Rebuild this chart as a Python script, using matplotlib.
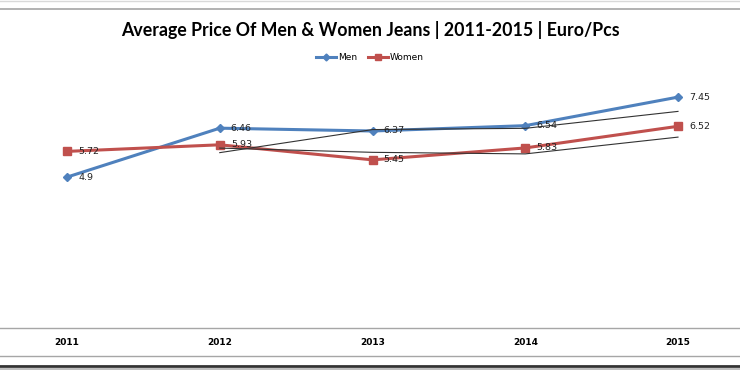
import numpy as np
import matplotlib
matplotlib.use("Agg")
import matplotlib.pyplot as plt
from matplotlib.lines import Line2D

years = ['2011', '2012', '2013', '2014', '2015']
men = [4.9, 6.46, 6.37, 6.54, 7.45]
women = [5.72, 5.93, 5.45, 5.83, 6.52]

# 2-period moving average trendlines (start at the second point)
men_ma = [(a + b) / 2 for a, b in zip(men[:-1], men[1:])]
women_ma = [(a + b) / 2 for a, b in zip(women[:-1], women[1:])]

blue = '#4F81BD'
red = '#C0504D'

fig = plt.figure(figsize=(7.4, 3.7), dpi=100)
ax = fig.add_axes([0, 1 - 328 / 370, 1, 314 / 370])
x = np.arange(len(years))

ax.plot(x, men, color=blue, lw=2.2, marker='D', ms=4, zorder=3, label='Men')
ax.plot(x, women, color=red, lw=2.2, marker='s', ms=6, zorder=3, label='Women')
ax.plot(x[1:], men_ma, color='#333333', lw=0.8, zorder=4)
ax.plot(x[1:], women_ma, color='#333333', lw=0.8, zorder=4)

for xi, v in zip(x, men):
    ax.annotate(f'{v:g}', (xi, v), xytext=(8, 0), textcoords='offset points',
                va='center', ha='left', fontsize=6.8, color='#222222', zorder=5)
for xi, v in zip(x, women):
    ax.annotate(f'{v:g}', (xi, v), xytext=(8, 0), textcoords='offset points',
                va='center', ha='left', fontsize=6.8, color='#222222', zorder=5)

ax.set_xlim(-67 / 152.75, 4 + 62 / 152.75)
ax.set_ylim(0.09, 0.09 + 314 / 31.37)
ax.set_xticks(x)
ax.set_xticklabels(years, fontweight='bold', fontsize=6.5)
ax.tick_params(axis='x', length=0, pad=7)
ax.set_yticks([])
for s in ['top', 'left', 'right']:
    ax.spines[s].set_visible(False)
ax.spines['bottom'].set_color('#A6A6A6')
ax.spines['bottom'].set_linewidth(1)

fig.text(0.5, 1 - 30 / 370, 'Average Price Of Men & Women Jeans | 2011-2015 | Euro/Pcs',
         ha='center', va='center', fontsize=12.8, fontweight='bold', family='Lato')

handles = [Line2D([], [], color=blue, lw=2.2, marker='D', ms=3.5),
           Line2D([], [], color=red, lw=2.2, marker='s', ms=5)]
fig.legend(handles, ['Men', 'Women'], loc='center', bbox_to_anchor=(0.5, 1 - 58 / 370),
           ncol=2, frameon=False, fontsize=6.5, handlelength=2.2, handletextpad=0.2,
           columnspacing=1.2)

# frame lines of the original screenshot
fig.add_artist(Line2D([0, 1], [1 - 1 / 370] * 2, color='#D9D9D9', lw=1))
fig.add_artist(Line2D([0, 1], [1 - 9 / 370] * 2, color='#A6A6A6', lw=1.2))
fig.add_artist(Line2D([0, 1], [1 - 356 / 370] * 2, color='#A6A6A6', lw=1))
fig.add_artist(Line2D([0, 1], [1 - 365.5 / 370] * 2, color='#333333', lw=2))
fig.add_artist(Line2D([0, 1], [1 - 368.5 / 370] * 2, color='#BFBFBF', lw=1.5))

fig.savefig('out.png', dpi=100)
